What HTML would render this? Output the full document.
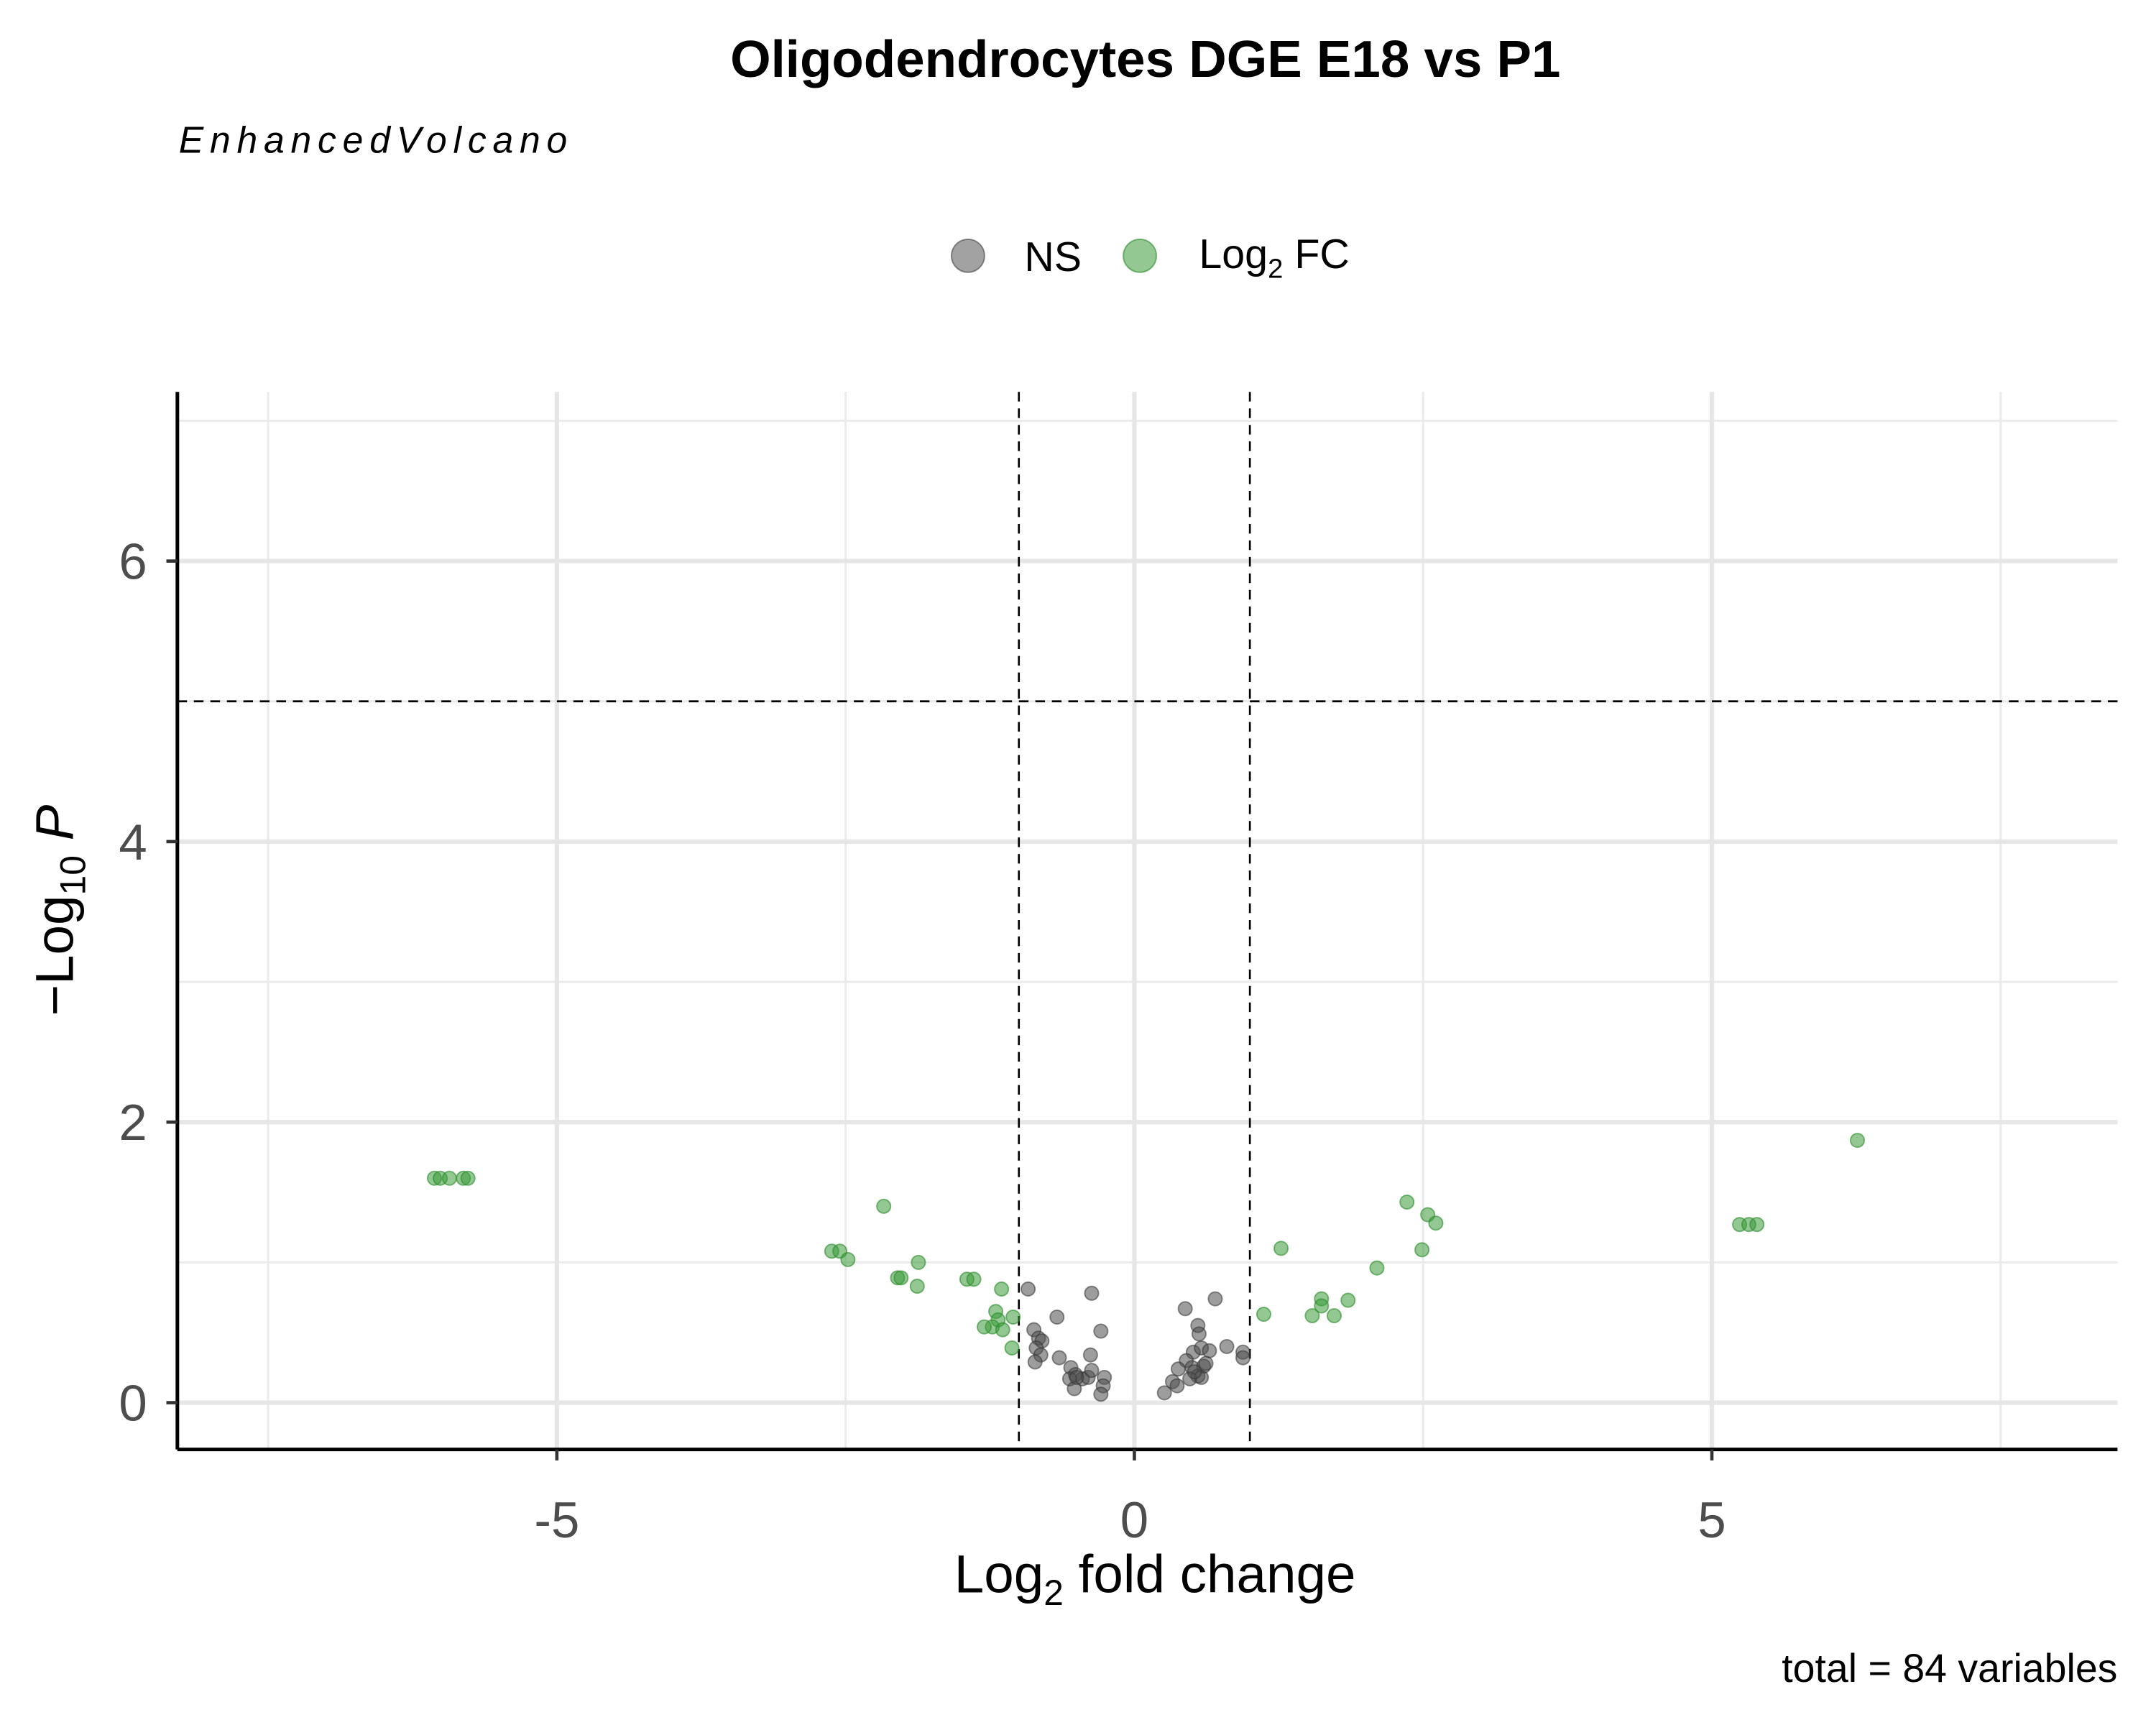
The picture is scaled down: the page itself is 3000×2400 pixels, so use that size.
<!DOCTYPE html>
<html><head><meta charset="utf-8"><style>html,body{margin:0;padding:0;background:#fff}svg{display:block}</style></head>
<body>
<svg id="chart" width="3000" height="2400" viewBox="0 0 1568 1254.4" preserveAspectRatio="none" xmlns="http://www.w3.org/2000/svg" font-family="Liberation Sans, Arial, sans-serif">
<rect width="1568" height="1254.4" fill="#fff"/>
<text x="833" y="56" text-anchor="middle" font-size="38" font-weight="bold">Oligodendrocytes DGE E18 vs P1</text>
<text x="130" y="111" font-size="27" font-style="italic" letter-spacing="4.6">EnhancedVolcano</text>
<g>
<circle cx="704" cy="186" r="12" fill="#555" fill-opacity="0.55" stroke="#444" stroke-opacity="0.6"/>
<text x="745" y="197" font-size="30">NS</text>
<circle cx="829" cy="186" r="12" fill="#3a9a3a" fill-opacity="0.55" stroke="#2a8a2a" stroke-opacity="0.6"/>
<text x="872" y="195" font-size="30">Log<tspan font-size="20" dy="7">2</tspan><tspan dy="-7"> FC</tspan></text>
</g>
<g id="grid"></g>
<g id="thresh"></g>
<g id="pts"></g>
<g id="axes"></g>
<text x="840" y="1158" text-anchor="middle" font-size="39">Log<tspan font-size="26" dy="9">2</tspan><tspan dy="-9"> fold change</tspan></text>
<text transform="translate(53,662) rotate(-90)" text-anchor="middle" font-size="39">−Log<tspan font-size="26" dy="9">10</tspan><tspan dy="-9" font-style="italic"> P</tspan></text>
<text x="1540" y="1223" text-anchor="end" font-size="29">total = 84 variables</text>
</svg>
<script>
const xTicks=[-5,0,5];
const xTickLabels=["-5","0","5"];
const xMinor=[-7.5,-2.5,2.5,7.5];
const yTicks=[0,2,4,6];
const yTickLabels=["0","2","4","6"];
const yMinor=[1,3,5,7];
const fcCut=[-1,1];
const pCut=[5];
const sigX=[-6.06,-6.01,-5.93,-5.81,-5.77,-2.17,-2.62,-2.55,-2.48,-1.87,-2.05,-2.02,-1.88,-1.45,-1.39,-1.15,-1.2,-1.18,-1.23,-1.14,-1.30,-1.05,-1.06,1.12,1.27,1.54,1.62,1.62,1.73,1.85,2.10,2.36,2.49,2.54,2.61,5.24,5.32,5.39,6.26];
const sigY=[1.6,1.6,1.6,1.6,1.6,1.40,1.08,1.08,1.02,1.0,0.89,0.89,0.83,0.88,0.88,0.81,0.65,0.59,0.54,0.52,0.54,0.61,0.39,0.63,1.10,0.62,0.74,0.69,0.62,0.73,0.96,1.43,1.09,1.34,1.28,1.27,1.27,1.27,1.87];
const nsX=[-0.92,-0.37,-0.67,-0.29,-0.87,-0.83,-0.8,-0.85,-0.81,-0.86,-0.65,-0.38,-0.55,-0.51,-0.45,-0.4,-0.37,-0.56,-0.52,-0.26,-0.27,-0.29,-0.5,0.44,0.70,0.55,0.56,0.51,0.58,0.65,0.80,0.94,0.94,0.45,0.38,0.5,0.6,0.55,0.48,0.58,0.33,0.37,0.26,0.52,0.62];
const nsY=[0.81,0.78,0.61,0.51,0.52,0.46,0.44,0.39,0.34,0.29,0.32,0.34,0.25,0.2,0.17,0.18,0.23,0.17,0.1,0.18,0.12,0.06,0.18,0.67,0.74,0.55,0.49,0.36,0.39,0.37,0.40,0.36,0.32,0.30,0.24,0.25,0.26,0.19,0.17,0.18,0.15,0.12,0.07,0.22,0.28];

const NS="http://www.w3.org/2000/svg";
const L=129,R=1540,T=285,B=1054;
const sx=v=>825+v*84;
const sy=v=>1020-v*102;
function mk(parent,tag,attrs){const e=document.createElementNS(NS,tag);for(const k in attrs)e.setAttribute(k,attrs[k]);parent.appendChild(e);return e;}
const grid=document.getElementById('grid');
xMinor.forEach(v=>{const e=mk(grid,'line',{x1:sx(v),x2:sx(v),y1:T,y2:B,stroke:'#ebebeb','stroke-width':1.6});

});
yMinor.forEach(v=>{const e=mk(grid,'line',{x1:L,x2:R,y1:sy(v),y2:sy(v),stroke:'#ebebeb','stroke-width':1.6});

});
xTicks.forEach(v=>{const e=mk(grid,'line',{x1:sx(v),x2:sx(v),y1:T,y2:B,stroke:'#e6e6e6','stroke-width':3.2});

});
yTicks.forEach(v=>{const e=mk(grid,'line',{x1:L,x2:R,y1:sy(v),y2:sy(v),stroke:'#e6e6e6','stroke-width':3.2});

});
const th=document.getElementById('thresh');
fcCut.forEach(v=>{const e=mk(th,'line',{x1:sx(v),x2:sx(v),y1:T,y2:B,stroke:'#000','stroke-width':1.4,'stroke-dasharray':'7,5'});

});
pCut.forEach(v=>{const e=mk(th,'line',{x1:L,x2:R,y1:sy(v),y2:sy(v),stroke:'#000','stroke-width':1.4,'stroke-dasharray':'7,5'});

});
const pts=document.getElementById('pts');
nsX.forEach((v,i)=>{const e=mk(pts,'circle',{cx:sx(v),cy:sy(nsY[i]),r:5,fill:'#4d4d4d','fill-opacity':0.55,stroke:'#333','stroke-opacity':0.55,'stroke-width':1});

});
sigX.forEach((v,i)=>{const e=mk(pts,'circle',{cx:sx(v),cy:sy(sigY[i]),r:5,fill:'#3a9a3a','fill-opacity':0.55,stroke:'#2a8a2a','stroke-opacity':0.6,'stroke-width':1});

});
const ax=document.getElementById('axes');
const xl=mk(ax,'line',{x1:L,x2:R,y1:B,y2:B,stroke:'#000','stroke-width':2.6});


const yl=mk(ax,'line',{x1:L,x2:L,y1:T,y2:B,stroke:'#000','stroke-width':2.6});


xTicks.forEach((v,i)=>{const t=mk(ax,'line',{x1:sx(v),x2:sx(v),y1:B,y2:B+8,stroke:'#333','stroke-width':2.4});


const l=mk(ax,'text',{x:sx(v),y:B+64,'text-anchor':'middle','font-size':37,fill:'#4d4d4d'});l.textContent=xTickLabels[i];

});
yTicks.forEach((v,i)=>{const t=mk(ax,'line',{x1:L-8,x2:L,y1:sy(v),y2:sy(v),stroke:'#333','stroke-width':2.4});


const l=mk(ax,'text',{x:L-22,y:sy(v)+13,'text-anchor':'end','font-size':37,fill:'#4d4d4d'});l.textContent=yTickLabels[i];

});
</script>
</body></html>
